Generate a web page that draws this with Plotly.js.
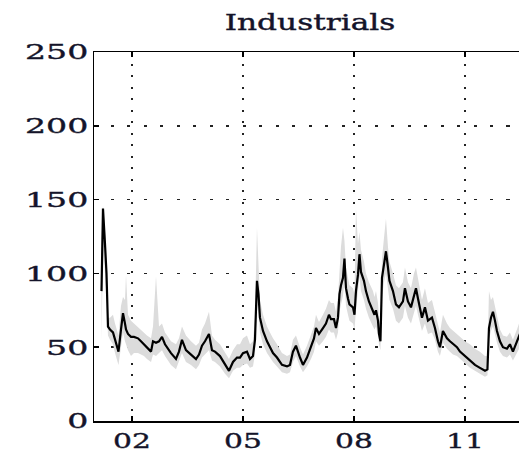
<!DOCTYPE html>
<html>
<head>
<meta charset="utf-8">
<script src="https://cdn.plot.ly/plotly-3.0.1.min.js"></script>
<style>
  html, body { margin: 0; padding: 0; overflow: hidden; background: #fff; }
  #chart { width: 540px; height: 455px; }
  /* slightly heavier strokes for the serif lettering */
  .xtick text, .ytick text { stroke: #14142a; stroke-width: 0.35px; }
  .gtitle { stroke: #14142a; stroke-width: 0.4px; }
</style>
</head>
<body>
<div id="chart"></div>
<script>
// Sample dates (decimal years)
const t = [2001.176,2001.216,2001.270,2001.311,2001.351,2001.405,2001.486,2001.541,2001.635,2001.703,
  2001.757,2001.811,2001.838,2001.892,2001.973,2002.054,2002.162,2002.243,2002.324,2002.405,
  2002.514,2002.568,2002.649,2002.730,2002.811,2002.892,2002.973,2003.054,2003.189,2003.270,
  2003.351,2003.459,2003.595,2003.730,2003.811,2003.892,2003.973,2004.081,2004.162,2004.243,
  2004.378,2004.514,2004.622,2004.730,2004.838,2004.919,2005.000,2005.108,2005.189,2005.270,
  2005.324,2005.378,2005.419,2005.459,2005.541,2005.649,2005.730,2005.811,2005.919,2006.054,
  2006.189,2006.270,2006.351,2006.432,2006.541,2006.622,2006.730,2006.838,2006.919,2006.973,
  2007.054,2007.162,2007.243,2007.324,2007.378,2007.459,2007.514,2007.568,2007.608,2007.649,
  2007.703,2007.743,2007.784,2007.838,2007.878,2007.973,2008.014,2008.054,2008.108,2008.149,
  2008.189,2008.270,2008.324,2008.405,2008.514,2008.554,2008.595,2008.649,2008.676,2008.716,
  2008.757,2008.811,2008.865,2008.919,2008.959,2009.054,2009.135,2009.216,2009.324,2009.378,
  2009.459,2009.541,2009.622,2009.676,2009.730,2009.838,2009.919,2010.000,2010.108,2010.189,
  2010.270,2010.324,2010.405,2010.514,2010.595,2010.676,2010.784,2010.865,2011.000,2011.135,
  2011.270,2011.405,2011.541,2011.608,2011.649,2011.703,2011.757,2011.811,2011.865,2011.946,
  2012.027,2012.135,2012.216,2012.297,2012.405,2012.486,2012.595,2012.649];

// Estimated level (black line)
const level = [88,144,120,100,64,62,60,55,47,62,
  73,66,62,59,57,57,56,54,52,50,
  47,54,53,54,57,52,49,46,42,47,
  55,48,45,42,45,51,54,59,48,47,
  44,38,34,40,43,43,46,47,42,44,
  55,95,86,70,61,54,50,46,43,38,
  37,38,47,51,43,38,43,50,56,63,
  59,63,66,72,69,69,63,70,86,92,
  97,110,90,83,79,77,72,88,99,113,
  101,95,88,81,75,72,75,68,59,54,
  97,108,115,104,95,88,79,77,81,90,
  81,77,86,90,83,70,77,68,70,63,
  54,50,61,56,54,52,50,47,44,41,
  38,36,34,35,63,70,74,68,61,54,
  50,49,52,47,54,59,55,56];

// Lower and upper edges of the shaded band
const bandLo = [54,120,100,85,58,55,52,46,38,50,
  60,54,52,48,44,46,46,45,44,42,
  40,45,44,46,48,44,41,38,35,40,
  46,40,38,35,38,43,45,48,41,40,
  37,32,29,34,36,36,38,39,36,37,
  45,80,72,60,52,46,43,40,37,33,
  32,33,40,44,37,33,37,42,47,54,
  51,54,57,62,60,60,55,60,74,80,
  85,95,78,72,68,66,62,75,86,98,
  88,82,76,70,64,62,64,58,52,48,
  84,94,100,90,82,76,68,66,70,78,
  70,66,74,78,72,61,66,59,60,55,
  47,44,53,49,47,45,44,42,39,36,
  34,32,30,31,55,61,64,59,53,47,
  44,43,45,41,46,50,47,48];

const bandHi = [121,146,130,108,70,70,72,66,58,78,
  84,82,99,72,68,66,64,62,60,58,
  56,64,98,64,66,60,57,54,52,56,
  64,58,54,51,53,62,66,74,58,55,
  52,46,42,48,52,52,56,58,52,54,
  70,131,100,82,72,64,60,56,52,46,
  44,45,55,58,50,45,51,58,64,72,
  67,72,76,82,80,80,74,84,104,118,
  131,122,104,96,92,90,86,144,120,128,
  116,108,100,94,88,84,88,80,70,64,
  110,124,137,118,108,100,92,90,94,104,
  94,90,100,104,96,82,90,80,82,74,
  64,60,72,66,63,61,59,57,54,52,
  49,47,44,44,88,82,84,78,70,62,
  58,57,60,55,62,68,64,65];

const yTickVals = [0, 50, 100, 150, 200, 250];
const xTickVals = [2002, 2005, 2008, 2011];
const xTickText = ['02', '05', '08', '11'];

const SERIF = '"DejaVu Serif", "Liberation Serif", serif';
const INK = '#14142a';

const traces = [
  { x: t, y: bandLo, type: 'scatter', mode: 'lines',
    line: { width: 0, color: 'rgba(0,0,0,0)' }, hoverinfo: 'skip' },
  { x: t, y: bandHi, type: 'scatter', mode: 'lines', fill: 'tonexty',
    fillcolor: '#dcdcdc', line: { width: 0, color: 'rgba(0,0,0,0)' }, hoverinfo: 'skip' },
  { x: t, y: level, type: 'scatter', mode: 'lines',
    line: { width: 2.2, color: '#000' } }
];

const layout = {
  width: 540, height: 455,
  margin: { l: 94, r: 14, t: 52, b: 34 },
  paper_bgcolor: '#fff', plot_bgcolor: '#fff',
  showlegend: false,
  title: {
    text: 'Industrials', xref: 'paper', x: 0.5, xanchor: 'center',
    yref: 'container', y: 1 - 22 / 455, yanchor: 'middle',
    font: { family: SERIF, size: 22, color: INK }
  },
  xaxis: {
    range: [2000.973, 2012.65],
    tickmode: 'array', tickvals: xTickVals, ticktext: xTickText,
    ticks: 'inside', ticklen: 5, tickwidth: 1.5, tickcolor: '#000',
    showline: true, linecolor: '#000', linewidth: 1.5, mirror: 'ticks',
    showgrid: true, gridcolor: '#222', gridwidth: 1.5, griddash: '2px,9.5px',
    zeroline: false,
    tickfont: { family: SERIF, size: 21, color: INK }
  },
  yaxis: {
    range: [0, 250],
    tickmode: 'array', tickvals: yTickVals,
    ticks: 'inside', ticklen: 5, tickwidth: 1.5, tickcolor: '#000',
    showline: true, linecolor: '#000', linewidth: 1.5, mirror: 'ticks',
    showgrid: true, gridcolor: '#222', gridwidth: 1.5, griddash: '3px,13.5px',
    zeroline: false,
    tickfont: { family: SERIF, size: 21, color: INK }
  }
};

// Widen the serif lettering horizontally around each label's anchor point
function widen(selector, s) {
  document.querySelectorAll(selector).forEach(function (el) {
    const anchor = el.getAttribute('text-anchor') || 'start';
    const bb = el.getBBox();
    const ax = anchor === 'end' ? bb.x + bb.width
             : anchor === 'middle' ? bb.x + bb.width / 2 : bb.x;
    const prev = el.getAttribute('transform') || '';
    el.setAttribute('transform',
      prev + ' translate(' + ax + ',0) scale(' + s + ',1) translate(' + (-ax) + ',0)');
  });
}

Plotly.newPlot('chart', traces, layout, { staticPlot: true, displayModeBar: false })
  .then(function () {
    widen('.xtick text', 1.42);
    widen('.ytick text', 1.58);
    widen('.gtitle', 1.42);
  });
</script>
</body>
</html>
